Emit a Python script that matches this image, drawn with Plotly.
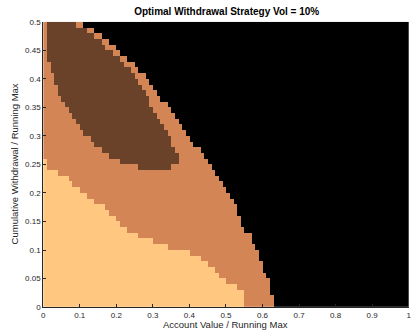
import plotly.graph_objects as go

# ---- data (per row of 0.01 in y, rows 0..49) ----
# x where the light (peach) region ends in each row
peach_end = [0.55, 0.55, 0.55, 0.53, 0.50, 0.48, 0.47, 0.45, 0.43, 0.40,
             0.34, 0.30, 0.26, 0.23, 0.21, 0.20, 0.18, 0.17, 0.14, 0.12,
             0.10, 0.08, 0.07, 0.04, 0.01, 0.01, 0.00, 0.00, 0.00, 0.00,
             0.00, 0.00, 0.00, 0.00, 0.00, 0.00, 0.00, 0.00, 0.00, 0.00,
             0.00, 0.00, 0.00, 0.00, 0.00, 0.00, 0.00, 0.00, 0.00, 0.00]
# x where the black region starts in each row
black_start = [0.63, 0.63, 0.62, 0.62, 0.62, 0.61, 0.60, 0.60, 0.59, 0.59,
               0.58, 0.57, 0.57, 0.55, 0.54, 0.54, 0.53, 0.53, 0.52, 0.51,
               0.50, 0.49, 0.48, 0.47, 0.46, 0.45, 0.44, 0.43, 0.41, 0.40,
               0.39, 0.38, 0.37, 0.36, 0.35, 0.34, 0.32, 0.31, 0.30, 0.29,
               0.28, 0.26, 0.25, 0.23, 0.21, 0.20, 0.18, 0.16, 0.14, 0.11]
# dark-brown region: start / end x per row (None = absent)
dark_start = [None] * 24 + [0.26, 0.21, 0.18, 0.16, 0.14, 0.13, 0.11, 0.10, 0.09, 0.08,
                            0.07, 0.06, 0.05, 0.04, 0.04, 0.03, 0.03, 0.02, 0.02, 0.01,
                            0.01, 0.01, 0.01, 0.01, 0.01, 0.01]
dark_end = [None] * 24 + [0.35, 0.37, 0.37, 0.36, 0.35, 0.35, 0.34, 0.33, 0.32, 0.31,
                          0.30, 0.29, 0.29, 0.28, 0.27, 0.26, 0.25, 0.24, 0.22, 0.21,
                          0.19, 0.17, 0.16, 0.14, 0.12, 0.09]

x_ticks = [0, 0.1, 0.2, 0.3, 0.4, 0.5, 0.6, 0.7, 0.8, 0.9, 1]
x_ticklabels = ["0", "0.1", "0.2", "0.3", "0.4", "0.5", "0.6", "0.7", "0.8", "0.9", "1"]
y_ticks = [0, 0.05, 0.1, 0.15, 0.2, 0.25, 0.3, 0.35, 0.4, 0.45, 0.5]
y_ticklabels = ["0", "0.05", "0.1", "0.15", "0.2", "0.25", "0.3", "0.35", "0.4", "0.45", "0.5"]

NX, NY = 100, 50
xs = [(i + 0.5) / 100 for i in range(NX)]
ys = [(j + 0.5) / 100 for j in range(NY)]

z = []
for j in range(NY):
    pe = int(round(peach_end[j] * 100))
    bs = int(round(black_start[j] * 100))
    ds = None if dark_start[j] is None else int(round(dark_start[j] * 100))
    de = None if dark_end[j] is None else int(round(dark_end[j] * 100))
    row = []
    for i in range(NX):
        if i < pe:
            v = 3
        elif i >= bs:
            v = 0
        elif ds is not None and ds <= i < de:
            v = 1
        else:
            v = 2
        row.append(v)
    z.append(row)

copper = [[0.0, "rgb(0,0,0)"], [1 / 3, "rgb(106,66,42)"],
          [2 / 3, "rgb(212,133,85)"], [1.0, "rgb(255,199,127)"]]

fig = go.Figure(go.Heatmap(x=xs, y=ys, z=z, colorscale=copper, zmin=0, zmax=3,
                           showscale=False, zsmooth=False, hoverinfo="skip"))

W, H = 412, 335
L, R, T, B = 41.7, 411.7, 18.3, 311.5
font_fam = "Liberation Sans, Arial, Helvetica, sans-serif"
axis_col = "#262626"

fig.update_layout(
    width=W, height=H,
    margin=dict(l=0, r=0, t=0, b=0),
    paper_bgcolor="white", plot_bgcolor="white",
    font=dict(family=font_fam, color=axis_col, size=8),
    xaxis=dict(domain=[L / W, R / W], range=[0, 1], tickvals=x_ticks, ticktext=x_ticklabels,
               ticks="inside", ticklen=3, tickcolor=axis_col, showline=True, linecolor=axis_col,
               linewidth=0.8, showgrid=False, zeroline=False, ticklabeloverflow="allow",
               tickfont=dict(size=8, color=axis_col, family=font_fam)),
    yaxis=dict(domain=[1 - B / H, 1 - T / H], range=[0, 0.5], tickvals=y_ticks, ticktext=y_ticklabels,
               ticks="inside", ticklen=3, tickcolor=axis_col, showline=True, linecolor=axis_col,
               linewidth=0.8, showgrid=False, zeroline=False,
               tickfont=dict(size=8, color=axis_col, family=font_fam)),
    title=dict(text="<b>Optimal Withdrawal Strategy Vol = 10%</b>", x=(L + R) / 2 / W, xanchor="center",
               y=1 - 11 / H, yanchor="middle", yref="container",
               font=dict(size=10, color="black", family=font_fam)),
    annotations=[
        dict(text="Account Value / Running Max", x=(L + R) / 2 / W, y=1 - 329 / H, xref="paper",
             yref="paper", showarrow=False, xanchor="center", yanchor="middle",
             font=dict(size=9.5, color=axis_col, family=font_fam)),
        dict(text="Cumulative Withdrawal / Running Max", x=12.5 / W, y=1 - 164.5 / H, xref="paper",
             yref="paper", showarrow=False, xanchor="center", yanchor="middle", textangle=-90,
             font=dict(size=9.5, color=axis_col, family=font_fam)),
    ],
)

fig.write_html("out.html", config={"displayModeBar": False},
               post_script="document.body.style.margin='0';")
